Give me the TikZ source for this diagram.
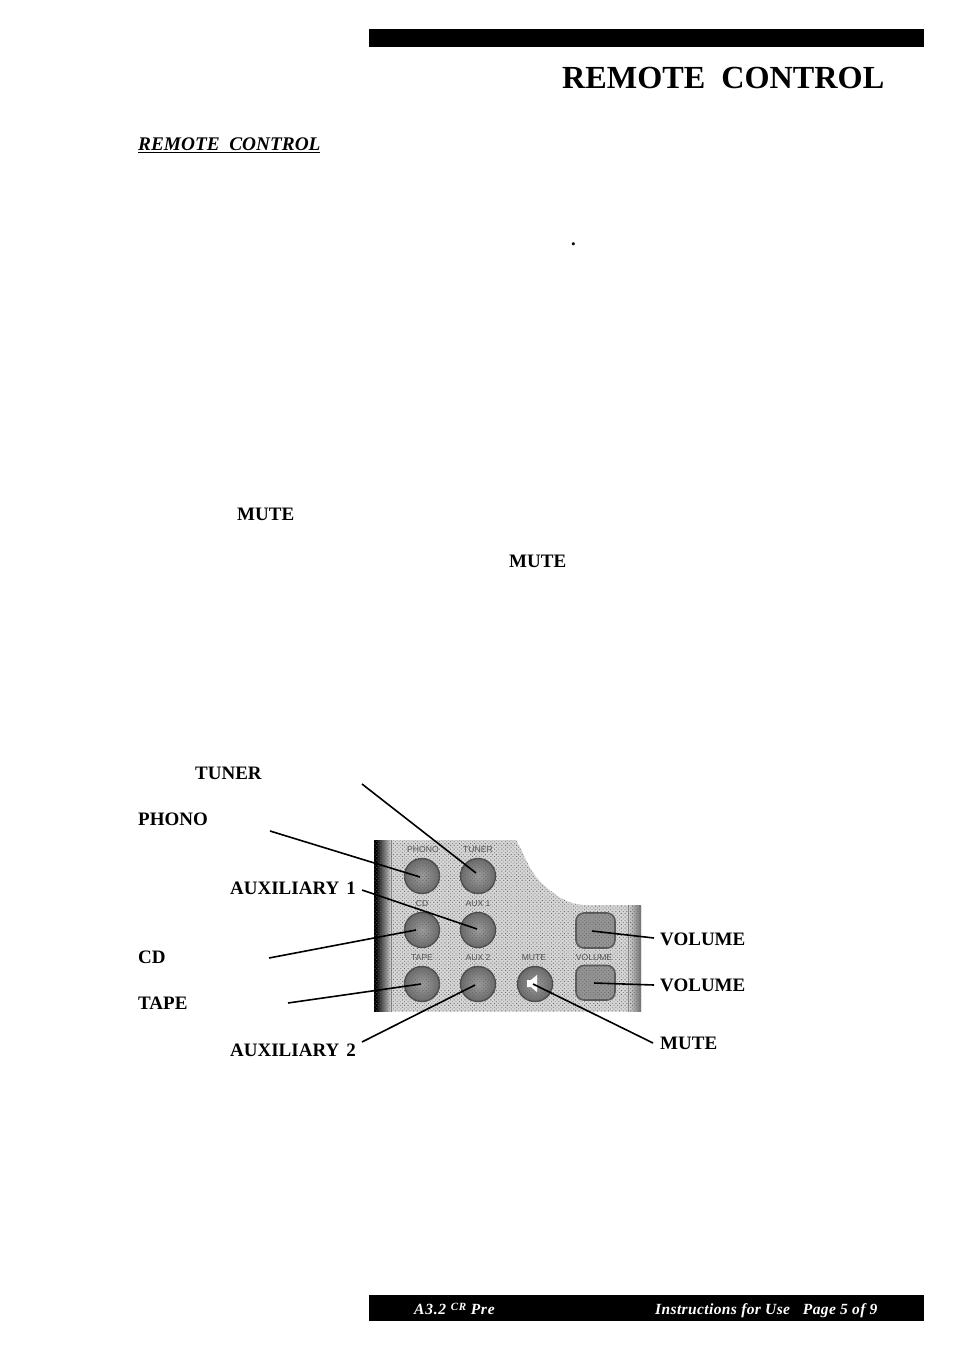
\documentclass[tikz,border=0pt]{standalone}
\usepackage{fontspec}
\setmainfont{Liberation Serif}
\setsansfont{Liberation Sans}
\usetikzlibrary{patterns.meta,shadings}
\definecolor{panelgray}{gray}{0.84}
\definecolor{printgray}{gray}{0.33}
\tikzset{
  x=1pt,y=-1pt,
  lbl/.style={anchor=base west,inner sep=0pt,font=\fontsize{19}{20}\selectfont\bfseries},
  leader/.style={draw=black,line width=1.6pt},
  bar/.style={fill=black,draw=none},
  printed/.style={anchor=center,inner sep=0pt,text=printgray,font=\sffamily\fontsize{8.6}{9}\selectfont},
  dither/.style={pattern={Dots[radius=.6pt,distance=2.6pt,angle=45]},pattern color=black!60},
  roundbtn/.style={circle,minimum size=35pt,inner sep=0pt,draw=black!70,line width=1.4pt,
     inner color=black!38,outer color=black!58},
  volbtn/.style={rounded corners=8pt,draw=black!65,line width=1.6pt,fill=black!42},
  foot/.style={anchor=base west,inner sep=0pt,text=white},
}
\begin{document}
\begin{tikzpicture}
\useasboundingbox (0,0) rectangle (954,1351);
\fill[white] (0,0) rectangle (954,1351);
% header
\fill[bar] (369,29) rectangle (924,47.5);
\node[anchor=base west,inner sep=0pt,font=\fontsize{32.2}{34}\selectfont\bfseries] (title) at (562,89) {REMOTE\ \ CONTROL};
\node[anchor=base west,inner sep=0pt,font=\fontsize{19.3}{22}\selectfont\bfseries\itshape] (sect) at (138,151) {REMOTE\ \ CONTROL};
\draw[line width=1pt] (sect.base west) ++(0,2) -- ++(182,0);
\node[anchor=base west,inner sep=0pt,font=\fontsize{18.6}{20}\selectfont\bfseries] (dot) at (571,245) {.};
\node[lbl] (mutea) at (237,520) {MUTE};
\node[lbl] (muteb) at (509,567) {MUTE};
% panel
\def\panelpath{(374,840) -- (516,840) .. controls (524,852) and (528,872) .. (545,886)
  .. controls (558,898) and (570,905) .. (587,905) -- (641,905) -- (641,1011.5) -- (374,1011.5) -- cycle}
\fill[panelgray] \panelpath;
\shade[left color=black,right color=panelgray] (376,840) rectangle (391,1011.5);
\fill[black] (374,840) rectangle (376,1011.5);
\shade[left color=panelgray,right color=black!55] (628,905) rectangle (641,1011.5);
\draw[black!45,line width=.5pt] (391,840) -- (391,1011.5);
\draw[black!45,line width=.5pt] (628,905) -- (628,1011.5);
\node[roundbtn] (phono) at (422,876) {};
\node[roundbtn] (tuner) at (478,876) {};
\node[roundbtn] (cd) at (422,930) {};
\node[roundbtn] (auxa) at (478,930) {};
\node[roundbtn] (tape) at (422,984) {};
\node[roundbtn] (auxb) at (478,984) {};
\node[roundbtn] (mutebtn) at (535,984) {};
\path[volbtn] (576,913) rectangle (615,948);
\path[volbtn] (576,965.5) rectangle (615,1000);
\fill[dither] \panelpath;
\fill[white] (527,980) -- (531,980) -- (537,975) -- (537,992) -- (531,987) -- (527,987) -- cycle;
\node[printed] (tphono) at (423,850) {PHONO};
\node[printed] (ttuner) at (478,850) {TUNER};
\node[printed] (tcd) at (422,904) {CD};
\node[printed] (taux1) at (478,904) {AUX 1};
\node[printed] (ttape) at (422,957.5) {TAPE};
\node[printed] (taux2) at (478,957.5) {AUX 2};
\node[printed] (tmute) at (534,957.5) {MUTE};
\node[printed] (tvol) at (594,957.5) {VOLUME};
% labels
\node[lbl] (ltuner) at (195,779) {TUNER};
\node[lbl] (lphono) at (138,825) {PHONO};
\node[lbl] (laux1) at (230,894) {AUXILIARY\hspace{7pt}1};
\node[lbl] (lcd) at (138,963) {CD};
\node[lbl] (ltape) at (138,1009) {TAPE};
\node[lbl] (laux2) at (230,1056) {AUXILIARY\hspace{7pt}2};
\node[lbl] (lvola) at (660,945) {VOLUME};
\node[lbl] (lvolb) at (660,991) {VOLUME};
\node[lbl] (lmute) at (660,1049) {MUTE};
% leader ends
\coordinate (s1) at (362,784); \coordinate (e1) at (476,873);
\coordinate (s2) at (270,831); \coordinate (e2) at (420,877);
\coordinate (s3) at (362,890); \coordinate (e3) at (477,929);
\coordinate (s4) at (269,958); \coordinate (e4) at (416,930);
\coordinate (s5) at (288,1003); \coordinate (e5) at (421,984);
\coordinate (s6) at (362,1042); \coordinate (e6) at (475,985);
\coordinate (s7) at (653,1043); \coordinate (e7) at (533,984);
\coordinate (s8) at (654,938); \coordinate (e8) at (592,931);
\coordinate (s9) at (654,985); \coordinate (e9) at (594,983);
\foreach \i in {1,...,9} \draw[leader] (s\i) -- (e\i);
% footer
\fill[bar] (369,1295) rectangle (924,1321);
\node[foot,font=\fontsize{15.5}{16}\selectfont\bfseries\itshape\addfontfeature{LetterSpace=5}] (fa) at (414,1314) {A3.2 \raisebox{3.5pt}{\fontsize{11}{11}\selectfont CR} Pre};
\node[foot,font=\fontsize{15.5}{16}\selectfont\bfseries\itshape\addfontfeature{LetterSpace=2.5}] (fb) at (655,1314) {Instructions for Use\ \ \ Page 5 of 9};
\end{tikzpicture}
\end{document}
